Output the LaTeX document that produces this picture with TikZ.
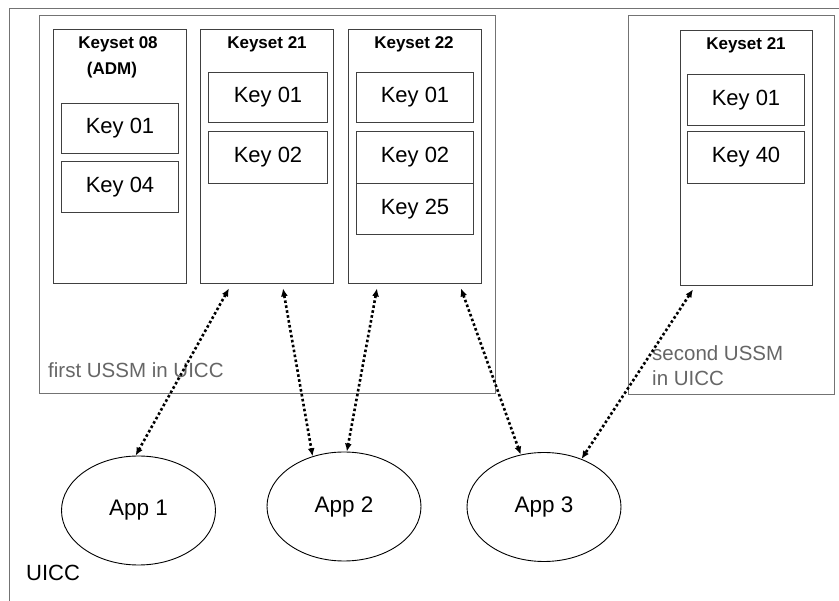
\documentclass[tikz,border=0pt]{standalone}
\usepackage{fontspec}
\setmainfont{Liberation Sans}
\usetikzlibrary{shapes.geometric,arrows.meta,calc}
\definecolor{frame}{gray}{0.45}
\definecolor{boxline}{gray}{0.25}
\definecolor{labelgray}{gray}{0.4}
\tikzset{
  outerbox/.style={draw=frame,line width=1pt,fill=none},
  setbox/.style={draw=boxline,line width=1.4pt,inner sep=0pt,anchor=north west},
  keybox/.style={draw=boxline,line width=1pt,inner sep=0pt,anchor=north west,font=\fontsize{22}{24}\selectfont},
  settitle/.style={font=\bfseries\fontsize{17}{19}\selectfont,inner sep=0pt},
  appnode/.style={draw=black,line width=0.9pt,ellipse,inner sep=0pt,minimum width=154pt,minimum height=109pt,font=\fontsize{22.5}{24}\selectfont},
  link/.style={line width=2.6pt,dash pattern=on 2.6pt off 2.4pt,{Latex[length=8pt,width=7pt]}-{Latex[length=8pt,width=7pt]}},
  grayLabel/.style={text=labelgray,font=\fontsize{20.5}{25}\selectfont,inner sep=0pt,anchor=west,align=left}
}
\begin{document}
\begin{tikzpicture}[x=1pt,y=-1pt]
\useasboundingbox (0,0) rectangle (839,601);
\fill[white] (0,0) rectangle (839,601);
% UICC outer frame (cropped at right and bottom)
\draw[frame,line width=1pt] (9.5,601) -- (9.5,8.5) -- (845,8.5);
% USSM boxes
\draw[outerbox] (39.5,15.5) rectangle (495,394);
\draw[outerbox] (628,15.5) rectangle (834,395);
% Keysets
\node[setbox,minimum width=133pt,minimum height=254pt] (ks08) at (53,29) {};
\node[setbox,minimum width=133pt,minimum height=254pt] (ks21) at (200,29) {};
\node[setbox,minimum width=133pt,minimum height=254pt] (ks22) at (348,29) {};
\node[setbox,minimum width=132pt,minimum height=255pt] (ks21b) at (680,30) {};
\node[settitle] (t08) at (118,44) {Keyset 08};
\node[settitle] (t08b) at (112,70) {(ADM)};
\node[settitle] (t21) at (267,44) {Keyset 21};
\node[settitle] (t22) at (414,44) {Keyset 22};
\node[settitle] (t21b) at (746,45) {Keyset 21};
% Keys
\node[keybox,minimum width=117pt,minimum height=50pt] (k0801) at (61,103) {Key 01};
\node[keybox,minimum width=117pt,minimum height=51pt] (k0804) at (61,161) {Key 04};
\node[keybox,minimum width=119pt,minimum height=50pt] (k2101) at (208,72) {Key 01};
\node[keybox,minimum width=119pt,minimum height=52pt] (k2102) at (208,131) {Key 02};
\node[keybox,minimum width=117pt,minimum height=50pt] (k2201) at (356,72) {Key 01};
\node[keybox,minimum width=117pt,minimum height=52pt] (k2202) at (356,131) {Key 02};
\node[keybox,minimum width=117pt,minimum height=51pt] (k2225) at (356,183) {Key 25};
\node[keybox,minimum width=117pt,minimum height=51pt] (kb01) at (687,74) {Key 01};
\node[keybox,minimum width=117pt,minimum height=52pt] (kb40) at (687,131) {Key 40};
% Labels
\node[grayLabel] (l1) at (48,370) {first USSM in UICC};
\node[grayLabel] (l2) at (652,366) {second USSM\\in UICC};
\node[inner sep=0pt,anchor=west,font=\fontsize{22}{24}\selectfont] (uicc) at (26,573) {UICC};
% Apps
\node[appnode] (app1) at (138.5,510.5) {App 1};
\node[appnode] (app2) at (344,506.5) {App 2};
\node[appnode] (app3) at (544,507) {App 3};
% Links
\draw[link] ($(ks21.south west)+(29,4)$) -- (app1.93);
\draw[link] ($(ks21.south west)+(83,4)$) -- (app2.122);
\draw[link] ($(ks22.south west)+(29,4)$) -- (app2.87);
\draw[link] ($(ks22.south west)+(113,4)$) -- (app3.114);
\draw[link] ($(ks21b.south west)+(13,3)$) -- (app3.52);
\end{tikzpicture}
\end{document}
